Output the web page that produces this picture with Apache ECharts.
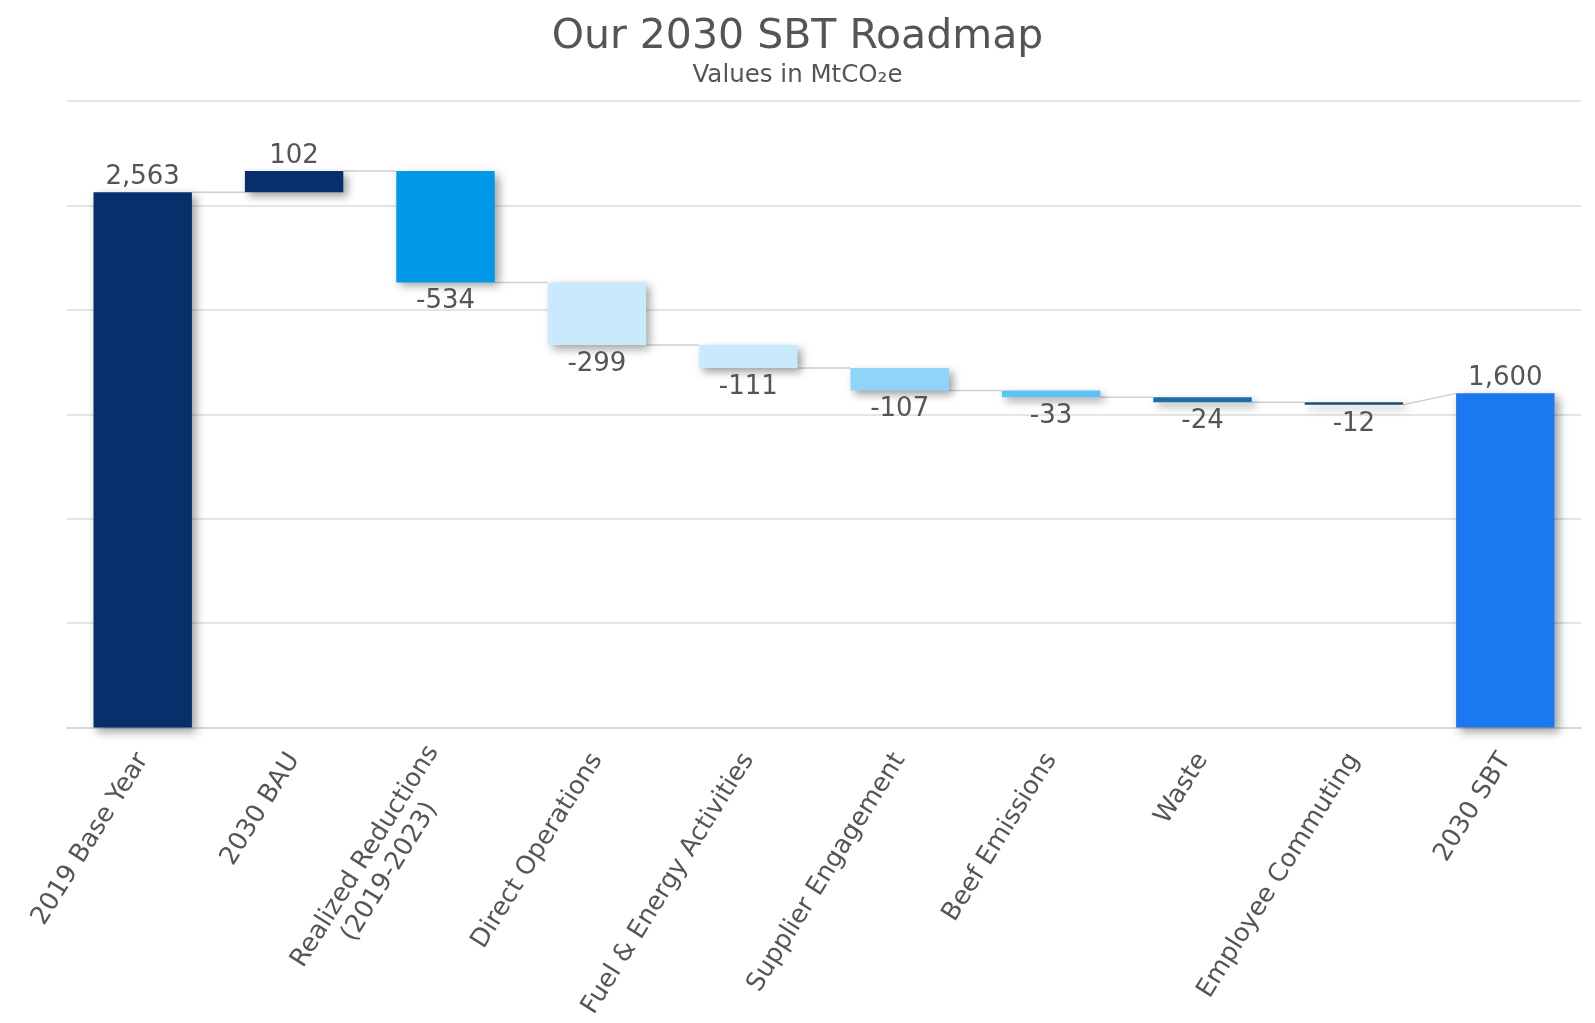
<!DOCTYPE html>
<html>
<head>
<meta charset="utf-8">
<script src="https://cdn.jsdelivr.net/npm/echarts@6/dist/echarts.min.js"></script>
<style>
  html, body { margin: 0; padding: 0; background: #fff; }
  #chart { width: 1595px; height: 1023px; }
</style>
</head>
<body>
<div id="chart"></div>
<script>
// Roadmap steps, from the 2019 baseline to the 2030 target
const categories = [
  '2019 Base Year',
  '2030 BAU',
  'Realized Reductions\n(2019-2023)',
  'Direct Operations',
  'Fuel & Energy Activities',
  'Supplier Engagement',
  'Beef Emissions',
  'Waste',
  'Employee Commuting',
  '2030 SBT'
];
// Totals are absolute levels; the rest are changes in MtCO2e
const changes = [2563, 102, -534, -299, -111, -107, -33, -24, -12, 1600];
const isTotal = [true, false, false, false, false, false, false, false, false, true];
const barColors = [
  '#072f6b', '#072f6b', '#0099ea', '#c9e9fc', '#c9e9fc',
  '#8fd4fb', '#5cc3f7', '#1b6ea6', '#164f7c', '#1a78f0'
];
const yTicks = { min: 0, max: 3000, interval: 500 };

// Running levels: each step starts where the previous ended
const starts = [], ends = [];
let level = 0;
changes.forEach((v, i) => {
  if (isTotal[i]) { starts.push(v); ends.push(v); level = v; }
  else { starts.push(level); level += v; ends.push(level); }
});
const baseData = changes.map((v, i) => isTotal[i] ? 0 : Math.min(starts[i], ends[i]));
const barData = changes.map((v, i) => ({
  value: Math.abs(v),
  itemStyle: { color: barColors[i] },
  label: v >= 0 ? { position: 'top', distance: 2 } : { position: 'bottom', distance: 6 }
}));
// Connector segments from the end of one bar to the start of the next
const connectorData = [];
for (let i = 0; i < categories.length - 1; i++) {
  const from = isTotal[i] ? changes[i] : ends[i];
  const to = isTotal[i + 1] ? changes[i + 1] : starts[i + 1];
  connectorData.push([i, from, to]);
}

const BAR_RATIO = 0.65;
const FONT = '"DejaVu Sans", Verdana, sans-serif';

const chart = echarts.init(document.getElementById('chart'));
chart.setOption({
  animation: false,
  title: {
    text: 'Our 2030 SBT Roadmap',
    subtext: 'Values in MtCO\u2082e',
    left: 'center',
    top: 11,
    itemGap: 3,
    textStyle: { fontFamily: FONT, fontSize: 41, fontWeight: 'normal', color: '#555', lineHeight: 43 },
    subtextStyle: { fontFamily: FONT, fontSize: 24.5, color: '#555', lineHeight: 27 }
  },
  grid: { left: 67, right: 14, top: 101, bottom: 295.5 },
  xAxis: {
    type: 'category',
    data: categories,
    axisLine: { show: true, lineStyle: { color: '#d6d6d6', width: 1.5 } },
    axisTick: { show: false },
    axisLabel: {
      rotate: 58,
      margin: 28,
      interval: 0,
      fontFamily: FONT,
      fontSize: 25.5,
      color: '#555',
      formatter: (v) => v.split('\n').map(s => '{c|' + s + '}').join('\n'),
      rich: { c: { align: 'center', fontFamily: FONT, fontSize: 25.5, color: '#555', lineHeight: 29 } }
    }
  },
  yAxis: {
    type: 'value',
    min: yTicks.min,
    max: yTicks.max,
    interval: yTicks.interval,
    axisLine: { show: false },
    axisTick: { show: false },
    axisLabel: { show: false },
    splitLine: { lineStyle: { color: '#dcdcdc', width: 1.5 } }
  },
  series: [
    {
      type: 'custom',
      z: 1,
      silent: true,
      renderItem: (params, api) => {
        const p1 = api.coord([api.value(0), api.value(1)]);
        const p2 = api.coord([api.value(0) + 1, api.value(2)]);
        const half = api.size([1, 0])[0] * BAR_RATIO / 2;
        return {
          type: 'line',
          shape: { x1: p1[0] + half, y1: p1[1], x2: p2[0] - half, y2: p2[1] },
          style: { stroke: '#cfcfcf', lineWidth: 1.5 }
        };
      },
      data: connectorData
    },
    {
      type: 'bar',
      stack: 'wf',
      barWidth: (BAR_RATIO * 100) + '%',
      itemStyle: { color: 'transparent' },
      emphasis: { disabled: true },
      silent: true,
      data: baseData
    },
    {
      type: 'bar',
      stack: 'wf',
      z: 3,
      barWidth: (BAR_RATIO * 100) + '%',
      itemStyle: {
        shadowColor: 'rgba(0,0,0,0.38)',
        shadowBlur: 9,
        shadowOffsetX: 4,
        shadowOffsetY: 4
      },
      label: {
        show: true,
        fontFamily: FONT,
        fontSize: 26,
        color: '#555',
        formatter: (p) => changes[p.dataIndex].toLocaleString('en-US')
      },
      data: barData
    }
  ]
});
</script>
</body>
</html>
